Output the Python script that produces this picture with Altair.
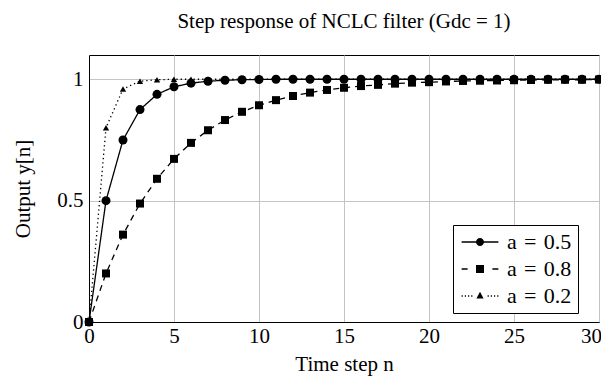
import altair as alt
import pandas as pd

n_vals = list(range(31))
y_a05 = [0.0, 0.5, 0.75, 0.875, 0.938, 0.969, 0.984, 0.992, 0.996, 0.998, 0.999,
         1.0, 1.0, 1.0, 1.0, 1.0, 1.0, 1.0, 1.0, 1.0, 1.0,
         1.0, 1.0, 1.0, 1.0, 1.0, 1.0, 1.0, 1.0, 1.0, 1.0]
y_a08 = [0.0, 0.2, 0.36, 0.488, 0.59, 0.672, 0.738, 0.79, 0.832, 0.866, 0.893,
         0.914, 0.931, 0.945, 0.956, 0.965, 0.972, 0.977, 0.982, 0.986, 0.988,
         0.991, 0.993, 0.994, 0.995, 0.996, 0.997, 0.998, 0.998, 0.998, 0.999]
y_a02 = [0.0, 0.8, 0.96, 0.992, 0.998, 1.0, 1.0, 1.0, 1.0, 1.0, 1.0,
         1.0, 1.0, 1.0, 1.0, 1.0, 1.0, 1.0, 1.0, 1.0, 1.0,
         1.0, 1.0, 1.0, 1.0, 1.0, 1.0, 1.0, 1.0, 1.0, 1.0]
labels = ["a\u2004=\u20040.5\u2002", "a\u2004=\u20040.8\u2002", "a\u2004=\u20040.2\u2002"]
x_ticks = [0, 5, 10, 15, 20, 25, 30]
y_ticks = [0, 0.5, 1]

FONT = "Liberation Serif"

x_enc = alt.X("n:Q", scale=alt.Scale(domain=[0, 30], nice=False, zero=False),
              axis=alt.Axis(values=x_ticks, title="Time step n", grid=True,
                            gridColor="#c4c4c4", domainColor="black", ticks=False,
                            labelFlush=False, labelPadding=3, titlePadding=7, zindex=0,
                            labelOffset={"condition": {"test": "datum.value == 30", "value": -8},
                                         "value": 0}))
y_enc = alt.Y("y:Q", scale=alt.Scale(domain=[0, 1.1], nice=False),
              axis=alt.Axis(values=y_ticks, title="Output y[n]", format="~g", grid=True,
                            gridColor="#c4c4c4", domainColor="black", ticks=False,
                            labelFlush=False, labelPadding=6, titlePadding=23, zindex=0))

def series(ys, dash, shape, size):
    d = pd.DataFrame({"n": n_vals, "y": ys})
    line = alt.Chart(d).mark_line(color="black", strokeWidth=1.3, strokeDash=dash).encode(x=x_enc, y=y_enc)
    pts = alt.Chart(d).mark_point(filled=True, shape=shape, size=size, color="black",
                                  opacity=1, strokeWidth=0).encode(x=x_enc, y=y_enc)
    return [line, pts]

layers = []
layers += series(y_a05, [1, 0], "circle", 81)
layers += series(y_a08, [6, 5], "square", 64)
layers += series(y_a02, [1.3, 3], "triangle-up", 40)

# legend glyphs: line pieces drawn as thin filled bars (unit = symbol radius)
def bar(x0, x1):
    return f"M{x0},-0.16H{x1}V0.16H{x0}Z"

path05 = bar(-4.6, 4.6) + "M0,-1A1,1,0,1,1,0,1A1,1,0,1,1,0,-1Z"
path08 = bar(-4.6, -3.1) + bar(3.1, 4.6) + "M-1,-1H1V1H-1Z"
dots = [(-4.6, -4.3), (-3.8, -3.5), (-3.0, -2.7), (-2.2, -1.9),
        (1.9, 2.2), (2.7, 3.0), (3.5, 3.8), (4.3, 4.6)]
path02 = "".join(bar(a, b) for a, b in dots) + "M0,-1.05L0.9,0.6H-0.9Z"

legend_df = pd.DataFrame({"n": n_vals[:3], "y": y_a05[:3], "series": labels})
legend_layer = alt.Chart(legend_df).mark_point(filled=True, fill="black", stroke="black",
                                                opacity=1, size=64, strokeWidth=1).encode(
    x=x_enc, y=y_enc,
    shape=alt.Shape("series:N",
                    scale=alt.Scale(domain=labels, range=[path05, path08, path02]),
                    legend=alt.Legend(title=None, orient="none", legendX=364, legendY=170,
                                      strokeColor="black", fillColor="white", padding=6,
                                      symbolSize=64, symbolOffset=10, labelOffset=16,
                                      symbolFillColor="black", symbolStrokeColor="black",
                                      symbolOpacity=1,
                                      labelFont=FONT, labelFontSize=22, labelColor="black",
                                      rowPadding=5, cornerRadius=0)),
).transform_filter("datum.n < 0")

chart = alt.layer(*layers, legend_layer).properties(
    width=510, height=267,
    autosize=alt.AutoSizeParams(type="none"),
    padding={"left": 81, "top": 47, "right": 2, "bottom": 58},
    title=alt.Title("Step response of NCLC filter (Gdc = 1)", font=FONT, fontSize=21,
                    fontWeight="normal", color="black", anchor="middle", offset=23),
).configure_view(stroke="black", strokeWidth=1).configure_axis(
    labelFont=FONT, labelFontSize=21, labelColor="black",
    titleFont=FONT, titleFontSize=21, titleFontWeight="normal", titleColor="black",
    domainWidth=1, gridWidth=1,
)

chart.save("out.html", embed_options={"renderer": "svg", "actions": False})
